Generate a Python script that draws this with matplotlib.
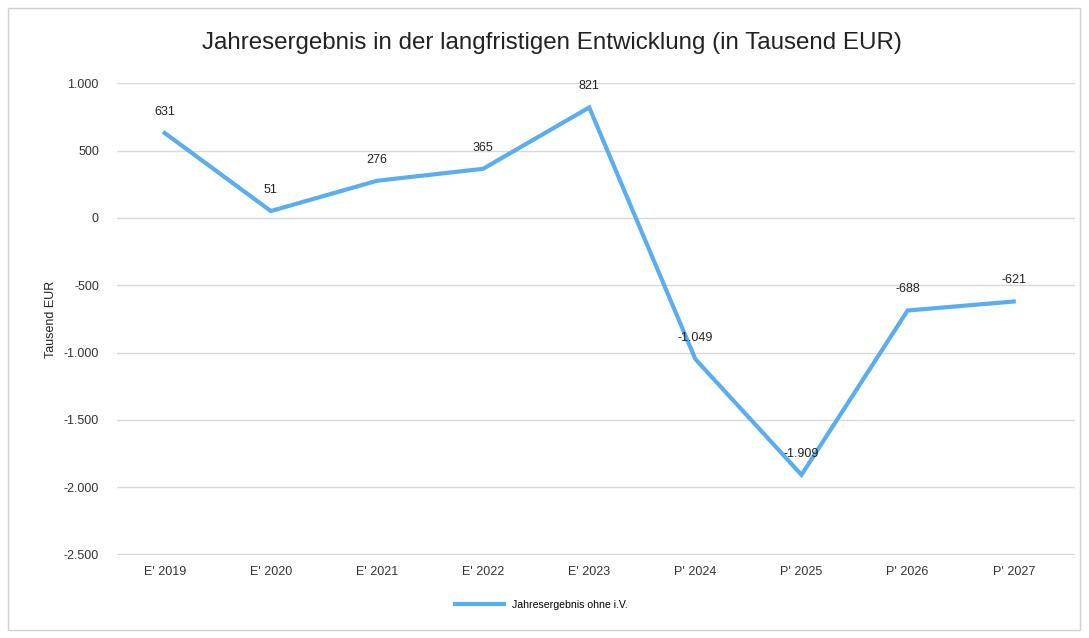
import numpy as np
import matplotlib.pyplot as plt
from matplotlib.patches import Rectangle
from matplotlib.ticker import FuncFormatter

plt.rcParams['font.family'] = ['Liberation Sans', 'DejaVu Sans']

categories = ["E' 2019", "E' 2020", "E' 2021", "E' 2022", "E' 2023",
              "P' 2024", "P' 2025", "P' 2026", "P' 2027"]
values = [631, 51, 276, 365, 821, -1049, -1909, -688, -621]
series_name = 'Jahresergebnis ohne i.V.'


def de_format(v):
    s = f'{abs(int(round(v))):,}'.replace(',', '.')
    return ('-' if v < 0 else '') + s


fig = plt.figure(figsize=(10.89, 6.38), dpi=100)
ax = fig.add_axes([0.1074, 0.130, 0.880, 0.740])

x = np.arange(len(categories))
line_color = '#5aaef0'
ax.plot(x, values, color=line_color, linewidth=3, label=series_name,
        solid_joinstyle='miter', zorder=3)

for xi, v in zip(x, values):
    ax.annotate(de_format(v), (xi, v), xytext=(0, 11), textcoords='offset points',
                ha='center', va='bottom', fontsize=9, color='#222222')

ax.set_xlim(-0.45, len(categories) - 0.42)
ax.set_ylim(-2505, 1003)
ax.set_yticks(np.arange(-2500, 1001, 500))
ax.yaxis.set_major_formatter(FuncFormatter(lambda v, p: de_format(v)))
ax.set_xticks(x)
ax.set_xticklabels(categories)
ax.tick_params(axis='both', length=0, labelsize=9, colors='#333333')
ax.tick_params(axis='x', pad=8)
ax.tick_params(axis='y', pad=13)
ax.grid(axis='y', color='#d9d9d9', linewidth=1)
ax.set_axisbelow(True)
for sp in ax.spines.values():
    sp.set_visible(False)

ax.set_ylabel('Tausend EUR', fontsize=9, color='#222222', labelpad=5)
fig.text(0.507, 0.932, 'Jahresergebnis in der langfristigen Entwicklung (in Tausend EUR)',
         ha='center', va='center', fontsize=17.4, color='#222222')

fig.legend(loc='center', bbox_to_anchor=(0.4975, 0.052), frameon=False, fontsize=7.6,
           handlelength=4.6, handletextpad=0.8)

fig.patches.append(Rectangle((8 / 1089, 8 / 638), 1072 / 1089, 622 / 638,
                             transform=fig.transFigure, fill=False,
                             edgecolor='#d0d0d0', linewidth=1))

fig.savefig('out.png', dpi=100)
